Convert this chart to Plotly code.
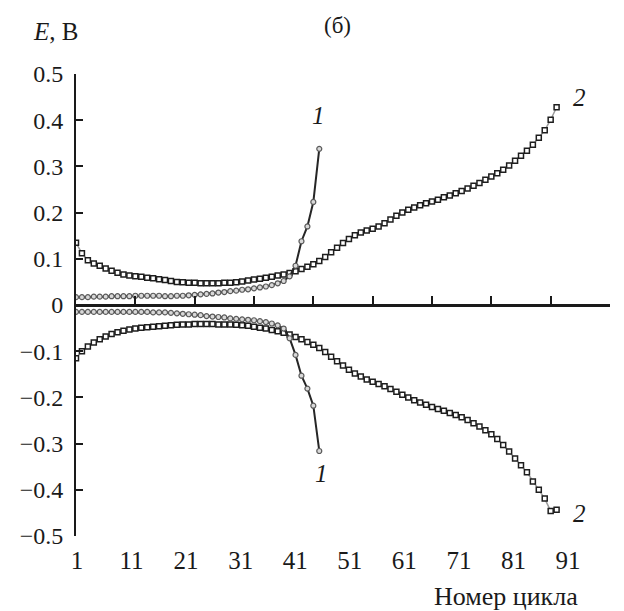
import plotly.graph_objects as go

# Cycle numbers
cycles_1 = list(range(1, 43))
cycles_2 = list(range(1, 83))

# Curve 1: positive and negative branches, E (V)
e1_pos = [0.017, 0.017, 0.017, 0.018, 0.018, 0.018, 0.019, 0.019, 0.019, 0.019,
          0.020, 0.020, 0.020, 0.020, 0.020, 0.019, 0.019, 0.020, 0.020, 0.021,
          0.022, 0.023, 0.024, 0.025, 0.027, 0.028, 0.030, 0.031, 0.033, 0.034,
          0.036, 0.038, 0.040, 0.043, 0.047, 0.052, 0.062, 0.085, 0.138, 0.170,
          0.223, 0.338]
e1_neg = [-0.015, -0.015, -0.015, -0.015, -0.015, -0.015, -0.015, -0.015, -0.015, -0.015,
          -0.015, -0.015, -0.015, -0.016, -0.016, -0.016, -0.017, -0.018, -0.019, -0.020,
          -0.021, -0.022, -0.024, -0.025, -0.026, -0.027, -0.029, -0.030, -0.031, -0.032,
          -0.033, -0.035, -0.037, -0.040, -0.044, -0.051, -0.072, -0.108, -0.153, -0.181,
          -0.218, -0.316]

# Curve 2: positive and negative branches, E (V)
e2_pos = [0.135, 0.112, 0.097, 0.090, 0.085, 0.079, 0.074, 0.070, 0.066, 0.064,
          0.062, 0.061, 0.059, 0.058, 0.056, 0.054, 0.052, 0.050, 0.049, 0.048,
          0.048, 0.047, 0.047, 0.047, 0.047, 0.048, 0.048, 0.049, 0.051, 0.053,
          0.055, 0.057, 0.059, 0.061, 0.064, 0.066, 0.069, 0.073, 0.078, 0.083,
          0.088, 0.095, 0.104, 0.114, 0.124, 0.134, 0.143, 0.151, 0.157, 0.161,
          0.165, 0.170, 0.177, 0.185, 0.193, 0.200, 0.206, 0.211, 0.216, 0.220,
          0.224, 0.228, 0.233, 0.237, 0.242, 0.247, 0.252, 0.258, 0.264, 0.271,
          0.278, 0.285, 0.293, 0.302, 0.312, 0.323, 0.334, 0.347, 0.362, 0.378,
          0.401, 0.428]
e2_neg = [-0.115, -0.100, -0.090, -0.081, -0.074, -0.068, -0.063, -0.059, -0.056, -0.053,
          -0.051, -0.049, -0.048, -0.047, -0.046, -0.045, -0.044, -0.043, -0.042, -0.042,
          -0.041, -0.041, -0.041, -0.041, -0.042, -0.042, -0.042, -0.043, -0.044, -0.045,
          -0.047, -0.049, -0.051, -0.054, -0.057, -0.060, -0.064, -0.069, -0.074, -0.080,
          -0.086, -0.093, -0.102, -0.112, -0.122, -0.131, -0.140, -0.148, -0.155, -0.161,
          -0.166, -0.171, -0.176, -0.182, -0.188, -0.194, -0.200, -0.206, -0.211, -0.216,
          -0.221, -0.225, -0.229, -0.234, -0.238, -0.243, -0.249, -0.256, -0.263, -0.271,
          -0.280, -0.290, -0.303, -0.317, -0.332, -0.347, -0.362, -0.382, -0.400, -0.419,
          -0.446, -0.443]

x_ticks = [1, 11, 21, 31, 41, 51, 61, 71, 81, 91]
y_ticks = [0.5, 0.4, 0.3, 0.2, 0.1, 0, -0.1, -0.2, -0.3, -0.4, -0.5]
y_labels = ["0.5", "0.4", "0.3", "0.2", "0.1", "0",
            "\u22120.1", "\u22120.2", "\u22120.3", "\u22120.4", "\u22120.5"]

FONT = "Liberation Serif"
INK = "#1a1a1a"

fig = go.Figure()

for ys in (e2_pos, e2_neg):
    fig.add_trace(go.Scatter(
        x=cycles_2, y=ys, mode="lines+markers",
        line=dict(color="#9a9a9a", width=1.5),
        marker=dict(symbol="square", size=5, color="white",
                    line=dict(width=1.5, color="#1e1e1e")),
        showlegend=False, hoverinfo="skip"))

for ys in (e1_pos, e1_neg):
    fig.add_trace(go.Scatter(
        x=cycles_1, y=ys, mode="lines+markers",
        line=dict(color="#262626", width=2),
        marker=dict(symbol="circle", size=5, color="#d9d9d9",
                    line=dict(width=1.2, color="#5a5a5a")),
        showlegend=False, hoverinfo="skip"))

# Curve labels
for txt, xv, yv in (("1", 41.9, 0.41), ("1", 42.4, -0.364),
                    ("2", 85.8, 0.449), ("2", 85.8, -0.451)):
    fig.add_annotation(x=xv, y=yv, xref="x", yref="y", text="<i>" + txt + "</i>",
                       showarrow=False, font=dict(family=FONT, size=25, color=INK))

# Axis titles and panel label
fig.add_annotation(x=-0.084, y=1.093, xref="paper", yref="paper", xanchor="left",
                   yanchor="middle", text="<i>E</i>, В", showarrow=False,
                   font=dict(family=FONT, size=25, color=INK))
fig.add_annotation(x=0.490, y=1.105, xref="paper", yref="paper", xanchor="center",
                   yanchor="middle", text="(б)", showarrow=False,
                   font=dict(family=FONT, size=23, color=INK))
fig.add_annotation(x=0.943, y=-0.130, xref="paper", yref="paper", xanchor="right",
                   yanchor="middle", text="Номер цикла", showarrow=False,
                   font=dict(family=FONT, size=26, color=INK))

fig.update_layout(
    width=624, height=611,
    margin=dict(l=76, r=14, t=74, b=75),
    paper_bgcolor="white", plot_bgcolor="white",
    font=dict(family=FONT, color=INK),
    xaxis=dict(
        range=[1, 91], anchor="free", position=0.5, side="bottom",
        showline=True, linecolor=INK, linewidth=2.5,
        ticks="inside", ticklen=8, tickwidth=2, tickcolor=INK,
        tickvals=x_ticks, showticklabels=False,
        showgrid=False, zeroline=False),
    xaxis2=dict(
        range=[0.8167, 98.70], overlaying="x", anchor="y", side="bottom",
        showline=False, ticks="", tickvals=x_ticks,
        ticktext=[str(v) for v in x_ticks], ticklabelstandoff=7,
        tickfont=dict(family=FONT, size=25, color=INK),
        showgrid=False, zeroline=False),
    yaxis=dict(
        range=[-0.5, 0.5], showline=True, linecolor=INK, linewidth=2,
        ticks="inside", ticklen=7, tickwidth=2, tickcolor=INK,
        tickvals=y_ticks, ticktext=y_labels, ticklabelstandoff=6,
        tickfont=dict(family=FONT, size=24, color=INK),
        showgrid=False, zeroline=False),
)

# Invisible trace to bring the label axis into the layout
fig.add_trace(go.Scatter(x=[None], y=[None], xaxis="x2", showlegend=False, hoverinfo="skip"))

fig.write_html("out.html")
